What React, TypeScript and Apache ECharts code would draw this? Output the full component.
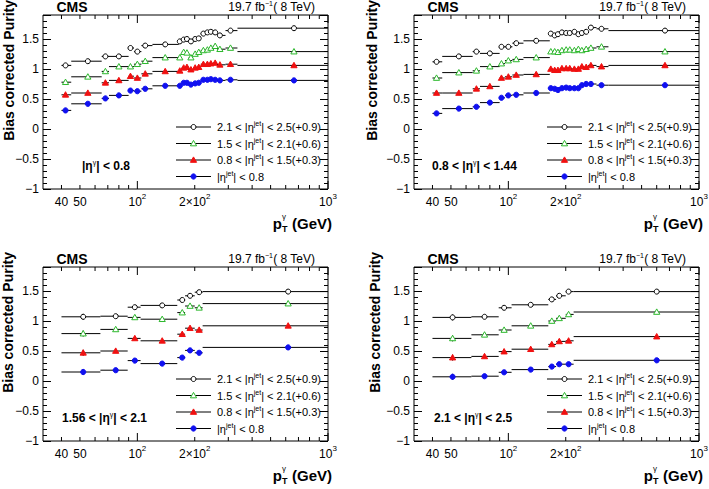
import { useEffect, useRef } from "react";
import * as echarts from "echarts";

// photon pT bin edges / centres (GeV), central photon panels
const TOP_EDGES = [40, 45, 65, 71, 90, 96, 105, 120, 165, 171, 178, 186, 196, 206, 215, 228, 238, 249, 262, 290, 335, 1000];
const TOP_PT = [42, 55, 68, 80, 92, 100, 110, 140, 167, 175, 182, 191, 201, 210, 222, 233, 243, 256, 271, 308, 663];
// forward photon panels
const BOT_EDGES = [40, 64, 89, 104, 162, 178, 200, 220, 1000];
const P3_PT = [52, 77, 97, 135, 172, 189, 211, 618];
const P4_PT = [51, 75, 95, 131, 169, 185, 207, 600];

// |eta_gamma| < 0.8
const P1_JET25 = [1.06, 1.13, 1.21, 1.21, 1.35, 1.29, 1.39, 1.41, 1.46, 1.49, 1.5, 1.46, 1.5, 1.51, 1.59, 1.61, 1.62, 1.61, 1.56, 1.64, 1.68];
const P1_JET21 = [0.78, 0.87, 0.96, 1.04, 1.04, 1.08, 1.13, 1.19, 1.19, 1.28, 1.27, 1.19, 1.25, 1.28, 1.31, 1.32, 1.35, 1.38, 1.33, 1.35, 1.29];
const P1_JET15 = [0.57, 0.6, 0.77, 0.81, 0.88, 0.85, 0.92, 0.96, 0.97, 1.02, 1.03, 0.99, 1.02, 1.03, 1.08, 1.08, 1.09, 1.1, 1.07, 1.08, 1.06];
const P1_JET08 = [0.31, 0.42, 0.51, 0.56, 0.64, 0.63, 0.67, 0.72, 0.72, 0.77, 0.77, 0.74, 0.76, 0.77, 0.82, 0.82, 0.83, 0.82, 0.81, 0.82, 0.81];

// 0.8 < |eta_gamma| < 1.44
const P2_JET25 = [1.12, 1.21, 1.29, 1.26, 1.37, 1.37, 1.43, 1.47, 1.59, 1.56, 1.58, 1.61, 1.6, 1.6, 1.62, 1.58, 1.6, 1.62, 1.69, 1.67, 1.64];
const P2_JET21 = [0.85, 0.94, 0.97, 1.04, 1.09, 1.14, 1.16, 1.19, 1.29, 1.29, 1.28, 1.31, 1.32, 1.32, 1.31, 1.33, 1.31, 1.33, 1.35, 1.37, 1.29];
const P2_JET15 = [0.6, 0.6, 0.67, 0.71, 0.85, 0.87, 0.9, 0.91, 1.0, 0.98, 0.98, 1.01, 1.01, 1.01, 1.0, 1.0, 1.04, 1.03, 1.06, 1.04, 1.06];
const P2_JET08 = [0.26, 0.34, 0.37, 0.44, 0.52, 0.56, 0.57, 0.6, 0.68, 0.67, 0.65, 0.68, 0.69, 0.68, 0.68, 0.68, 0.73, 0.75, 0.75, 0.73, 0.73];

// 1.56 < |eta_gamma| < 2.1
const P3_JET25 = [1.07, 1.08, 1.23, 1.26, 1.35, 1.42, 1.48, 1.49];
const P3_JET21 = [0.79, 0.86, 1.06, 1.03, 1.14, 1.25, 1.22, 1.29];
const P3_JET15 = [0.47, 0.5, 0.71, 0.67, 0.78, 0.88, 0.85, 0.92];
const P3_JET08 = [0.15, 0.18, 0.34, 0.29, 0.39, 0.51, 0.47, 0.56];

// 2.1 < |eta_gamma| < 2.5
const P4_JET25 = [1.06, 1.07, 1.22, 1.27, 1.36, 1.42, 1.49, 1.49];
const P4_JET21 = [0.71, 0.77, 0.85, 0.92, 1.0, 1.045, 1.11, 1.15];
const P4_JET15 = [0.39, 0.41, 0.49, 0.53, 0.61, 0.66, 0.67, 0.74];
const P4_JET08 = [0.07, 0.08, 0.145, 0.19, 0.24, 0.28, 0.28, 0.345];

// statistical errors
const TOP_ERR_FWD = [0.02, 0.015, 0.015, 0.015, 0.02, 0.02, 0.015, 0.015, 0.02, 0.02, 0.02, 0.02, 0.02, 0.02, 0.02, 0.02, 0.02, 0.02, 0.02, 0.025, 0.04];
const TOP_ERR = [0.012, 0.01, 0.01, 0.01, 0.012, 0.012, 0.01, 0.01, 0.012, 0.012, 0.012, 0.012, 0.012, 0.012, 0.012, 0.012, 0.012, 0.012, 0.012, 0.015, 0.02];
const BOT_ERR_FWD = [0.05, 0.02, 0.02, 0.015, 0.02, 0.02, 0.02, 0.015];
const BOT_ERR = [0.05, 0.02, 0.02, 0.012, 0.015, 0.015, 0.015, 0.012];

const JET_BINS = [
  ["2.1 < |η", "| < 2.5(+0.9)"],
  ["1.5 < |η", "| < 2.1(+0.6)"],
  ["0.8 < |η", "| < 1.5(+0.3)"],
  ["|η", "| < 0.8"],
];
const PHOTON_BINS = [
  ["|η", "| < 0.8"],
  ["0.8 < |η", "| < 1.44"],
  ["1.56 < |η", "| < 2.1"],
  ["2.1 < |η", "| < 2.5"],
];

const X_TICKS = [40, 50, 60, 70, 80, 90, 100, 200, 300, 400, 500, 600, 700, 800, 900, 1000];
const X_MAJOR = [100, 1000];
const X_LABEL_VALUES = [40, 50, 100, 200, 1000];
const X_LABEL_BASES = ["40", "50", "10", "2×10", "10"];
const X_LABEL_EXPS = ["", "", "2", "2", "3"];

const X_MIN = 32;
const X_MAX = 1000;
const Y_MIN = -1;
const Y_MAX = 1.9;

const FONT = "'Liberation Sans', Arial, Helvetica, sans-serif";
const W = 285;
const H = 174;
const PANELS = [
  { left: 43, top: 15, titleX: 8.5, labelX: 82 },
  { left: 414, top: 15, titleX: 372, labelX: 432 },
  { left: 43, top: 267, titleX: 7.5, labelX: 62 },
  { left: 414, top: 267, titleX: 374.5, labelX: 434 },
];
const PANEL_DATA = [
  { pt: TOP_PT, edges: TOP_EDGES, vals: [P1_JET25, P1_JET21, P1_JET15, P1_JET08], errs: [TOP_ERR_FWD, TOP_ERR, TOP_ERR, TOP_ERR] },
  { pt: TOP_PT, edges: TOP_EDGES, vals: [P2_JET25, P2_JET21, P2_JET15, P2_JET08], errs: [TOP_ERR_FWD, TOP_ERR, TOP_ERR, TOP_ERR] },
  { pt: P3_PT, edges: BOT_EDGES, vals: [P3_JET25, P3_JET21, P3_JET15, P3_JET08], errs: [BOT_ERR_FWD, BOT_ERR, BOT_ERR, BOT_ERR] },
  { pt: P4_PT, edges: BOT_EDGES, vals: [P4_JET25, P4_JET21, P4_JET15, P4_JET08], errs: [BOT_ERR_FWD, BOT_ERR, BOT_ERR, BOT_ERR] },
];

// open circle, open triangle, full triangle, full circle
const MARKERS = [
  { shape: "circle", filled: false, color: "#000000" },
  { shape: "triangle", filled: false, color: "#2cb82c" },
  { shape: "triangle", filled: true, color: "#f01010" },
  { shape: "circle", filled: true, color: "#1010f0" },
];

const line = (x1: number, y1: number, x2: number, y2: number) => ({
  type: "line",
  shape: { x1, y1, x2, y2 },
  style: { stroke: "#000", lineWidth: 1 },
});

const marker = (kind: number, cx: number, cy: number) => {
  const m = MARKERS[kind];
  const style = { fill: m.filled ? m.color : "#fff", stroke: m.color, lineWidth: 1 };
  if (m.shape === "circle") {
    return { type: "circle", shape: { cx, cy, r: m.filled ? 2.6 : 2.5 }, style };
  }
  const s = 3.1;
  return {
    type: "polygon",
    shape: { points: [[cx, cy - s], [cx + s, cy + s * 0.75], [cx - s, cy + s * 0.75]] },
    style,
  };
};

const supRich = (size: number, bold: boolean) => ({
  t: { fontSize: size, fontFamily: FONT, fontWeight: bold ? "bold" : "normal", lineHeight: size + 3, verticalAlign: "middle" },
  s: { fontSize: Math.round(size * 0.62), fontFamily: FONT, lineHeight: Math.round(size * 0.62), verticalAlign: "top" },
});

function buildOption() {
  const grid: any[] = [];
  const xAxis: any[] = [];
  const yAxis: any[] = [];
  const series: any[] = [];
  const graphic: any[] = [];

  PANELS.forEach((p, gi) => {
    grid.push({
      left: p.left,
      top: p.top,
      width: W,
      height: H,
      show: true,
      borderColor: "#000",
      borderWidth: 1,
      backgroundColor: "transparent",
    });
    xAxis.push({
      gridIndex: gi,
      type: "log",
      logBase: 10,
      min: X_MIN,
      max: X_MAX,
      axisLine: { show: false },
      axisTick: { show: false },
      axisLabel: { show: false },
      splitLine: { show: false },
    });
    [false, true].forEach((right) => {
      yAxis.push({
        gridIndex: gi,
        type: "value",
        position: right ? "right" : "left",
        min: Y_MIN,
        max: Y_MAX,
        interval: 0.5,
        axisLine: { show: false },
        axisTick: { show: true, inside: true, length: 8, lineStyle: { color: "#000", width: 1 } },
        minorTick: { show: true, splitNumber: 5, length: 4, lineStyle: { color: "#000", width: 1 } },
        splitLine: { show: false },
        minorSplitLine: { show: false },
        axisLabel: {
          show: !right,
          showMaxLabel: false,
          fontSize: 12,
          fontFamily: FONT,
          color: "#000",
          margin: 4,
          formatter: (v: number) => (v < 0 ? "\u2212" + Math.abs(v) : String(v)),
        },
      });
    });

    // x ticks, bottom and top
    series.push({
      type: "custom",
      xAxisIndex: gi,
      yAxisIndex: gi * 2,
      silent: true,
      clip: false,
      data: X_TICKS.map((v) => [v, Y_MIN]),
      renderItem: (_params: any, api: any) => {
        const v = api.value(0);
        const b = api.coord([v, Y_MIN]);
        const t = api.coord([v, Y_MAX]);
        const len = X_MAJOR.includes(v) ? 8 : 4;
        return {
          type: "group",
          children: [line(b[0], b[1], b[0], b[1] - len), line(t[0], t[1], t[0], t[1] + len)],
        };
      },
    });
    // x tick labels
    series.push({
      type: "custom",
      xAxisIndex: gi,
      yAxisIndex: gi * 2,
      silent: true,
      clip: false,
      data: X_LABEL_VALUES.map((v, i) => [v, Y_MIN, i]),
      renderItem: (_params: any, api: any) => {
        const b = api.coord([api.value(0), Y_MIN]);
        const i = api.value(2);
        const exp = X_LABEL_EXPS[i];
        return {
          type: "text",
          x: b[0],
          y: b[1] + 3,
          style: {
            text: exp ? `{t|${X_LABEL_BASES[i]}}{s|${exp}}` : `{t|${X_LABEL_BASES[i]}}`,
            rich: {
              t: { fontSize: 12, fontFamily: FONT, lineHeight: 16, verticalAlign: "bottom" },
              s: { fontSize: 8, fontFamily: FONT, lineHeight: 9, verticalAlign: "top" },
            },
            fill: "#000",
            align: "center",
            verticalAlign: "top",
          },
        };
      },
    });

    const d = PANEL_DATA[gi];
    d.vals.forEach((vals, kind) => {
      const errs = d.errs[kind];
      series.push({
        type: "custom",
        xAxisIndex: gi,
        yAxisIndex: gi * 2,
        silent: true,
        clip: true,
        data: d.pt.map((x, i) => [x, vals[i], d.edges[i], d.edges[i + 1], errs[i]]),
        encode: { x: 0, y: 1 },
        renderItem: (_params: any, api: any) => {
          const x = api.value(0);
          const y = api.value(1);
          const e = api.value(4);
          const c = api.coord([x, y]);
          const lo = api.coord([api.value(2), y]);
          const hi = api.coord([api.value(3), y]);
          const up = api.coord([x, y + e]);
          const dn = api.coord([x, y - e]);
          return {
            type: "group",
            children: [line(lo[0], c[1], hi[0], c[1]), line(c[0], up[1], c[0], dn[1]), marker(kind, c[0], c[1])],
          };
        },
      });
    });

    const R = p.left + W;
    const B = p.top + H;

    // header texts
    graphic.push({
      type: "text",
      x: p.left + 13.5,
      y: p.top - 8,
      style: { text: "CMS", fontSize: 14, fontWeight: "bold", fontFamily: FONT, fill: "#000", align: "left", verticalAlign: "middle" },
    });
    graphic.push({
      type: "text",
      x: R - 13,
      y: p.top - 8,
      style: {
        text: "{t|19.7 fb}{s|\u22121}{t|( 8 TeV)}",
        rich: supRich(12, false),
        fill: "#000",
        align: "right",
        verticalAlign: "middle",
      },
    });
    // y title
    graphic.push({
      type: "text",
      x: p.titleX,
      y: p.top - 15,
      rotation: Math.PI / 2,
      style: {
        text: "Bias corrected Purity",
        fontSize: 14,
        fontWeight: "bold",
        fontFamily: FONT,
        fill: "#000",
        align: "right",
        verticalAlign: "middle",
      },
    });
    // x title
    graphic.push({
      type: "text",
      x: R - 46,
      y: B + 34,
      style: { text: "p", fontSize: 15, fontWeight: "bold", fontFamily: FONT, fill: "#000", align: "right", verticalAlign: "middle" },
    });
    graphic.push({
      type: "text",
      x: R - 46,
      y: B + 27,
      style: { text: "γ", fontSize: 8, fontFamily: FONT, fill: "#000", align: "left", verticalAlign: "middle" },
    });
    graphic.push({
      type: "text",
      x: R - 46,
      y: B + 40,
      style: { text: "T", fontSize: 9, fontWeight: "bold", fontFamily: FONT, fill: "#000", align: "left", verticalAlign: "middle" },
    });
    graphic.push({
      type: "text",
      x: R + 4,
      y: B + 34,
      style: { text: "(GeV)", fontSize: 15, fontWeight: "bold", fontFamily: FONT, fill: "#000", align: "right", verticalAlign: "middle" },
    });
    // photon eta label
    const [pa, pb] = PHOTON_BINS[gi];
    graphic.push({
      type: "text",
      x: p.labelX,
      y: p.top + 151,
      style: {
        text: `{t|${pa}}{s|γ}{t|${pb}}`,
        rich: supRich(12, true),
        fill: "#000",
        align: "left",
        verticalAlign: "middle",
      },
    });
    // legend
    const rows = [112, 128.5, 145, 161.5];
    JET_BINS.forEach(([a, b], kind) => {
      const y = p.top + rows[kind];
      graphic.push(line(p.left + 133, y, p.left + 168, y));
      graphic.push(marker(kind, p.left + 150.5, y));
      graphic.push({
        type: "text",
        x: p.left + 174,
        y,
        style: {
          text: `{t|${a}}{s|jet}{t|${b}}`,
          rich: supRich(11, false),
          fill: "#000",
          align: "left",
          verticalAlign: "middle",
        },
      });
    });
  });

  return { animation: false, backgroundColor: "#fff", grid, xAxis, yAxis, series, graphic };
}

export default function App() {
  const ref = useRef<HTMLDivElement>(null);

  useEffect(() => {
    if (!ref.current) return;
    const chart = echarts.init(ref.current, null, { renderer: "svg" });
    chart.setOption(buildOption());
    return () => {
      chart.dispose();
    };
  }, []);

  return (
    <div
      ref={ref}
      style={{ position: "absolute", left: 0, top: 0, width: 709, height: 489, background: "#fff" }}
    />
  );
}
